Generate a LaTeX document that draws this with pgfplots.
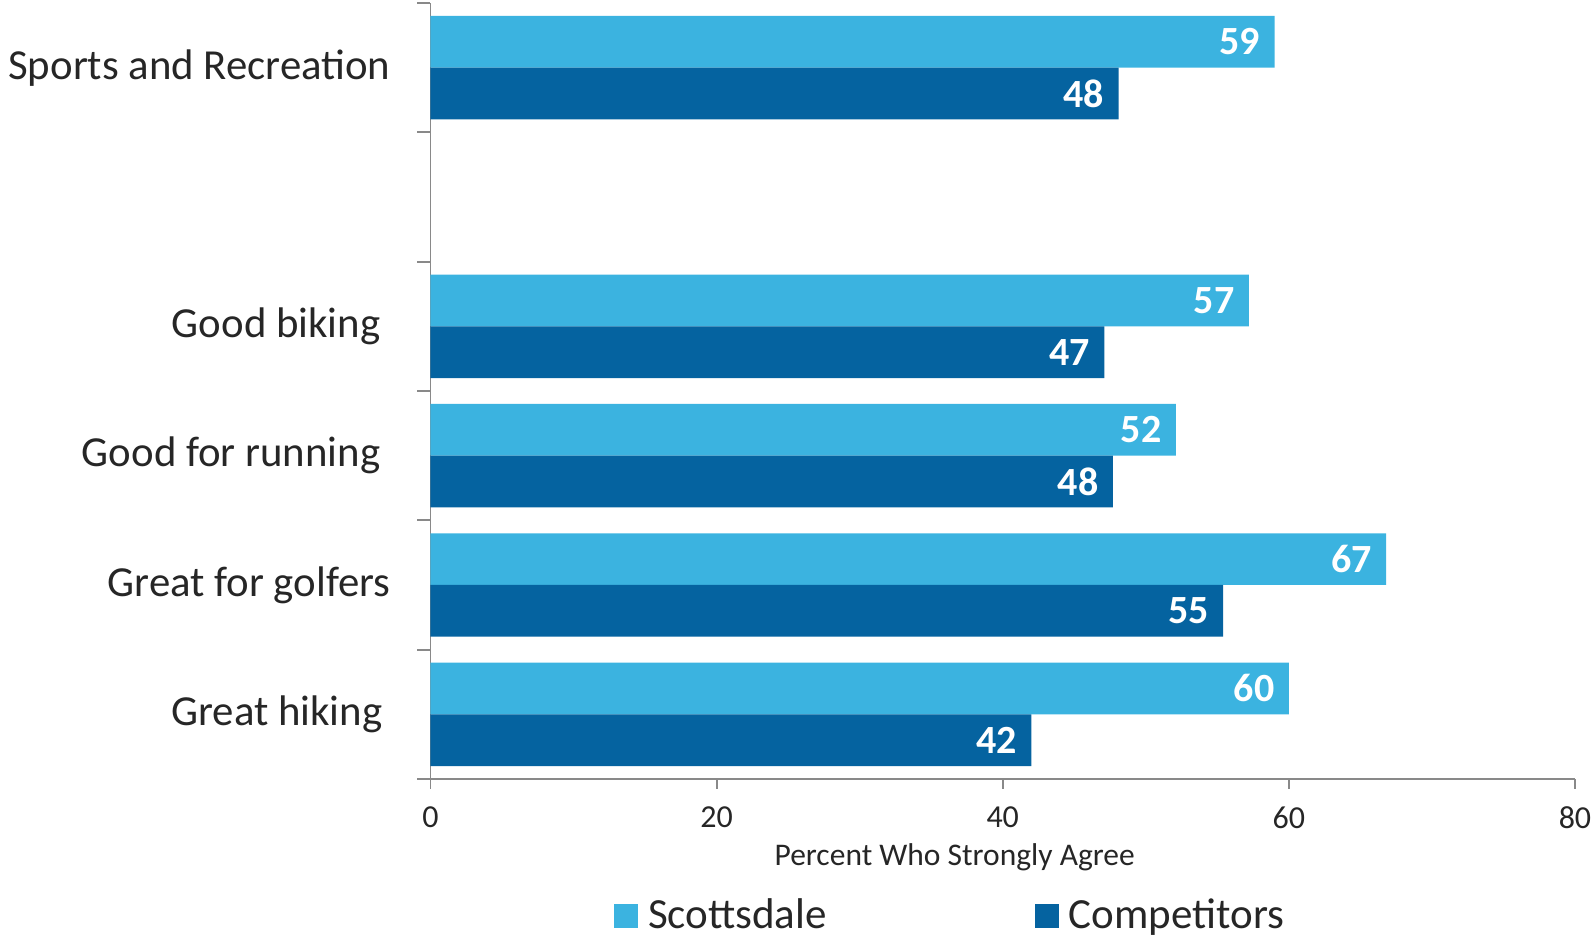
\documentclass[border=0pt]{standalone}
\usepackage{pgfplots}
\pgfplotsset{compat=1.18}
\usepackage{fontspec}
\setmainfont{Carlito}
\definecolor{lightb}{RGB}{59,179,224}
\definecolor{darkb}{RGB}{5,99,160}
\definecolor{axgray}{RGB}{137,137,137}
\definecolor{txt}{RGB}{38,38,38}
\begin{document}
\begin{tikzpicture}
\useasboundingbox (0,0) rectangle (796pt,468.5pt);
\begin{axis}[
  at={(215.25pt,79pt)}, anchor=south west,
  scale only axis, width=572.25pt, height=388pt,
  xbar, bar width=0.4,
  xmin=0, xmax=80, ymin=-0.5, ymax=5.5,
  axis x line*=bottom, axis y line*=left,
  axis line style={axgray, line width=0.9pt, -},
  xtick={0,20,40,60,80},
  ytick={0,1,2,3,4,5},
  yticklabels={Great hiking\kern4pt,Great for golfers,Good for running\kern5pt,Good biking\kern5pt,{},Sports and Recreation},
  minor ytick={-0.5,0.5,1.5,2.5,3.5,4.5,5.5},
  tick align=outside,
  major tick length=5pt, minor tick length=6.5pt,
  major y tick style={draw=none},
  major x tick style={axgray, line width=0.9pt},
  minor y tick style={axgray, line width=0.9pt},
  /pgf/number format/assume math mode=true,
  xticklabel style={font=\fontsize{16}{19}\selectfont, text=txt, yshift=-5.5pt},
  yticklabel style={font=\fontsize{21.4}{25}\selectfont, text=txt, anchor=east, xshift=-11.5pt},
  xlabel={Percent Who Strongly Agree},
  xlabel style={font=\fontsize{15.75}{19}\selectfont, text=txt, at={(axis description cs:0.458,0)}, anchor=center, yshift=-39pt},
  legend style={at={(axis description cs:0.16,-0.176)}, anchor=west, draw=none, inner sep=0pt,
    font=\fontsize{21.5}{25}\selectfont, text=txt,
    /tikz/every odd column/.append style={column sep=3pt},
    /tikz/every even column/.append style={column sep=102pt}},
  legend columns=2,
  legend image code/.code={\fill[#1] (0pt,-6pt) rectangle (12pt,6pt);},
  nodes near coords={\pgfmathprintnumber[fixed,precision=0]{\pgfplotspointmeta}},
  nodes near coords style={font=\bfseries\fontsize{20}{24}\selectfont, text=white, anchor=east, inner sep=0pt, xshift=-7pt},
  clip=false,
]
\addplot[fill=lightb, draw=none, bar shift=0.2] coordinates {
  (60.0,0) (66.8,1) (52.1,2) (57.2,3) (59.0,5)
};
\addplot[fill=darkb, draw=none, bar shift=-0.2] coordinates {
  (42.0,0) (55.4,1) (47.7,2) (47.1,3) (48.1,5)
};
\legend{Scottsdale, Competitors}
\end{axis}
\end{tikzpicture}
\end{document}
